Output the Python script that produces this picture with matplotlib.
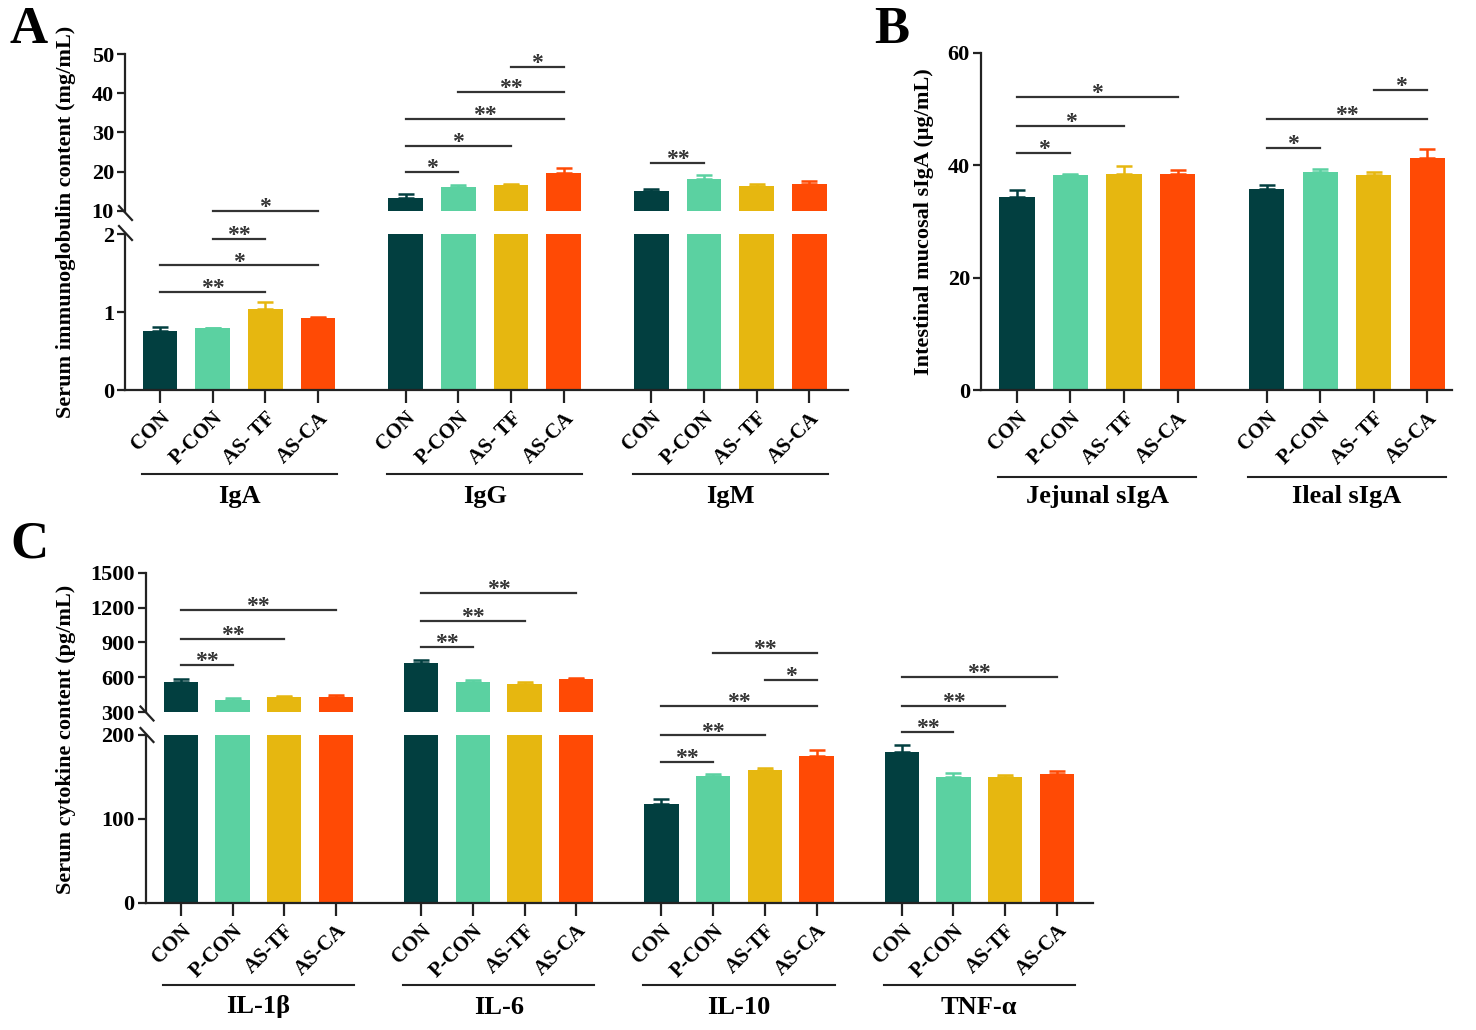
import matplotlib
matplotlib.use("Agg")
import matplotlib.pyplot as plt
import matplotlib.transforms as mtransforms
from matplotlib.lines import Line2D

W, H = 1476, 1030
plt.rcParams["font.family"] = ["Liberation Serif", "DejaVu Serif"]
plt.rcParams["font.weight"] = "bold"

COLORS = ["#023F40", "#5BD1A1", "#E6B710", "#FF4A05"]
INK = "#222222"
STAR = "#333333"
BAR_W = 0.66

# ---- panel A: serum immunoglobulins (mg/mL)
A_TREAT = ["CON", "P-CON", "AS- TF", "AS-CA"]
A_GROUPS = ["IgA", "IgG", "IgM"]
A_MEAN = [[0.754, 0.793, 1.045, 0.925],
          [13.3, 16.0, 16.5, 19.5],
          [15.0, 18.0, 16.4, 16.8]]
A_SEM = [[0.05, 0.008, 0.09, 0.015],
         [1.0, 0.6, 0.4, 1.4],
         [0.5, 1.1, 0.4, 0.7]]
# (group, bar i, bar j, height, label)
A_SIG = [(0, 0, 2, 1.26, "**"), (0, 0, 3, 1.60, "*"), (0, 1, 2, 1.94, "**"),
         (0, 1, 3, 10.0, "*"), (1, 0, 1, 19.85, "*"), (1, 0, 2, 26.6, "*"),
         (1, 0, 3, 33.5, "**"), (1, 1, 3, 40.3, "**"), (1, 2, 3, 46.6, "*"),
         (2, 0, 1, 22.1, "**")]

# ---- panel B: intestinal mucosal sIgA (ug/mL)
B_TREAT = ["CON", "P-CON", "AS- TF", "AS-CA"]
B_GROUPS = ["Jejunal sIgA", "Ileal sIgA"]
B_MEAN = [[34.4, 38.2, 38.5, 38.4],
          [35.8, 38.7, 38.2, 41.3]]
B_SEM = [[1.2, 0.2, 1.4, 0.7],
         [0.7, 0.7, 0.6, 1.5]]
B_SIG = [(0, 0, 1, 42.1, "*"), (0, 0, 2, 47.0, "*"), (0, 0, 3, 52.1, "*"),
         (1, 0, 1, 43.1, "*"), (1, 0, 3, 48.2, "**"), (1, 2, 3, 53.4, "*")]

# ---- panel C: serum cytokines (pg/mL)
C_TREAT = ["CON", "P-CON", "AS-TF", "AS-CA"]
C_GROUPS = ["IL-1β", "IL-6", "IL-10", "TNF-α"]
C_MEAN = [[558, 403, 429, 431],
          [721, 558, 540, 583],
          [117.6, 151.4, 158.5, 174.4],
          [179.2, 150.2, 149.4, 153.4]]
C_SEM = [[25, 17, 9, 15],
         [26, 19, 18, 11],
         [6.4, 2.6, 2.5, 8.0],
         [8.4, 4.4, 3.2, 3.1]]
C_SIG = [(0, 0, 1, 706, "**"), (0, 0, 2, 930, "**"), (0, 0, 3, 1176, "**"),
         (1, 0, 1, 864, "**"), (1, 0, 2, 1087, "**"), (1, 0, 3, 1322, "**"),
         (2, 0, 1, 168, "**"), (2, 0, 2, 199.5, "**"), (2, 0, 3, 357, "**"),
         (2, 2, 3, 580, "*"), (2, 1, 3, 809, "**"),
         (3, 0, 1, 204, "**"), (3, 0, 2, 357, "**"), (3, 0, 3, 603, "**")]

fig = plt.figure(figsize=(W / 100, H / 100), dpi=100)


def axes_px(left, top, right, bottom):
    return fig.add_axes([left / W, 1 - bottom / H, (right - left) / W, (bottom - top) / H])


def style(ax, show_x):
    for side in ("top", "right"):
        ax.spines[side].set_visible(False)
    for side in ("left", "bottom"):
        ax.spines[side].set_linewidth(1.6)
        ax.spines[side].set_color(INK)
    ax.tick_params(axis="y", length=6, width=1.6, color=INK, labelsize=16, pad=2)
    if show_x:
        ax.tick_params(axis="x", length=9, width=1.6, color=INK, labelsize=15, pad=4)
    else:
        ax.spines["bottom"].set_visible(False)
        ax.tick_params(axis="x", bottom=False, labelbottom=False)


def positions(n_groups, step):
    return [[g * step + i for i in range(4)] for g in range(n_groups)]


def draw_bars(ax, pos, means, sems):
    for g in range(len(means)):
        for i in range(4):
            ax.bar(pos[g][i], means[g][i], width=BAR_W, color=COLORS[i], zorder=2)
            ax.errorbar(pos[g][i], means[g][i], yerr=[[0], [sems[g][i]]], fmt="none",
                        ecolor=COLORS[i], elinewidth=1.8, capsize=6, capthick=1.8, zorder=3)


def xlabels(ax, pos, treat):
    ticks = [x for grp in pos for x in grp]
    ax.set_xticks(ticks)
    ax.set_xticklabels(treat * len(pos), rotation=45, ha="right", rotation_mode="anchor")
    for t in ax.get_xticklabels():
        t.set_fontweight("bold")


def group_labels(ax, pos, names, line_y, text_y):
    tr = mtransforms.blended_transform_factory(ax.transData, fig.transFigure)
    for grp, name in zip(pos, names):
        ax.add_line(Line2D([grp[0] - 0.35, grp[3] + 0.35], [1 - line_y / H] * 2,
                           transform=tr, color=INK, lw=1.5, clip_on=False))
        ax.text((grp[0] + grp[3]) / 2, 1 - text_y / H, name, transform=tr,
                ha="center", va="center", fontsize=19, fontweight="bold")


def sig(ax, pos, items):
    for g, i, j, y, lab in items:
        x0, x1 = pos[g][i], pos[g][j]
        ax.plot([x0, x1], [y, y], color=STAR, lw=1.6, clip_on=False, zorder=4)
        ax.annotate(lab, ((x0 + x1) / 2, y), xytext=(0, -1.5), textcoords="offset points",
                    ha="center", va="baseline", fontsize=17, fontweight="bold",
                    color=STAR, annotation_clip=False)


def sig_split(lo, hi, split, pos, items):
    sig(lo, pos, [it for it in items if it[3] < split])
    sig(hi, pos, [it for it in items if it[3] >= split])


def break_marks(x_px, y_list):
    for y in y_list:
        fig.add_artist(Line2D([(x_px - 6.5) / W, (x_px + 6.5) / W],
                              [1 - (y - 7) / H, 1 - (y + 7) / H],
                              transform=fig.transFigure, color=INK, lw=1.6))


# ================= Panel A =================
a_pos = positions(3, 4.66)
a_lo = axes_px(125, 234.3, 848.3, 390)
a_hi = axes_px(125, 54, 848.3, 210.7)
for ax in (a_lo, a_hi):
    draw_bars(ax, a_pos, A_MEAN, A_SEM)
    ax.set_xlim(-0.664, 13.06)
a_lo.set_ylim(0, 2)
a_lo.set_yticks([0, 1, 2])
a_hi.set_ylim(10, 50)
a_hi.set_yticks([10, 20, 30, 40, 50])
style(a_lo, True)
style(a_hi, False)
xlabels(a_lo, a_pos, A_TREAT)
group_labels(a_lo, a_pos, A_GROUPS, 474.3, 497)
sig_split(a_lo, a_hi, 5, a_pos, A_SIG)
break_marks(125.5, [213, 233])
fig.text(66 / W, 1 - 222 / H, "Serum immunoglobulin content (mg/mL)", rotation=90,
         ha="center", va="center", fontsize=16, fontweight="bold")
fig.text(10 / W, 1 - 30 / H, "A", fontsize=38, fontweight="bold", va="center")

# ================= Panel B =================
b_pos = positions(2, 4.66)
b_ax = axes_px(981, 52.7, 1452, 390)
draw_bars(b_ax, b_pos, B_MEAN, B_SEM)
b_ax.set_xlim(-0.67, 8.12)
b_ax.set_ylim(0, 60)
b_ax.set_yticks([0, 20, 40, 60])
style(b_ax, True)
xlabels(b_ax, b_pos, B_TREAT)
group_labels(b_ax, b_pos, B_GROUPS, 477, 497)
sig(b_ax, b_pos, B_SIG)
fig.text(924 / W, 1 - 222 / H, "Intestinal mucosal sIgA (μg/mL)", rotation=90,
         ha="center", va="center", fontsize=16, fontweight="bold")
fig.text(874 / W, 1 - 30 / H, "B", fontsize=38, fontweight="bold", va="center")

# ================= Panel C =================
c_pos = positions(4, 4.65)
c_lo = axes_px(145.7, 735, 1093, 902.7)
c_hi = axes_px(145.7, 572.7, 1093, 712.3)
for ax in (c_lo, c_hi):
    draw_bars(ax, c_pos, C_MEAN, C_SEM)
    ax.set_xlim(-0.68, 17.65)
c_lo.set_ylim(0, 200)
c_lo.set_yticks([0, 100, 200])
c_hi.set_ylim(300, 1500)
c_hi.set_yticks([300, 600, 900, 1200, 1500])
style(c_lo, True)
style(c_hi, False)
xlabels(c_lo, c_pos, C_TREAT)
group_labels(c_lo, c_pos, C_GROUPS, 984.7, 1007)
sig_split(c_lo, c_hi, 300, c_pos, C_SIG)
break_marks(147, [713.5, 735])
fig.text(66 / W, 1 - 739 / H, "Serum cytokine content (pg/mL)", rotation=90,
         ha="center", va="center", fontsize=16, fontweight="bold")
fig.text(10 / W, 1 - 545 / H, "C", fontsize=38, fontweight="bold", va="center")

fig.savefig("out.png", dpi=100)
